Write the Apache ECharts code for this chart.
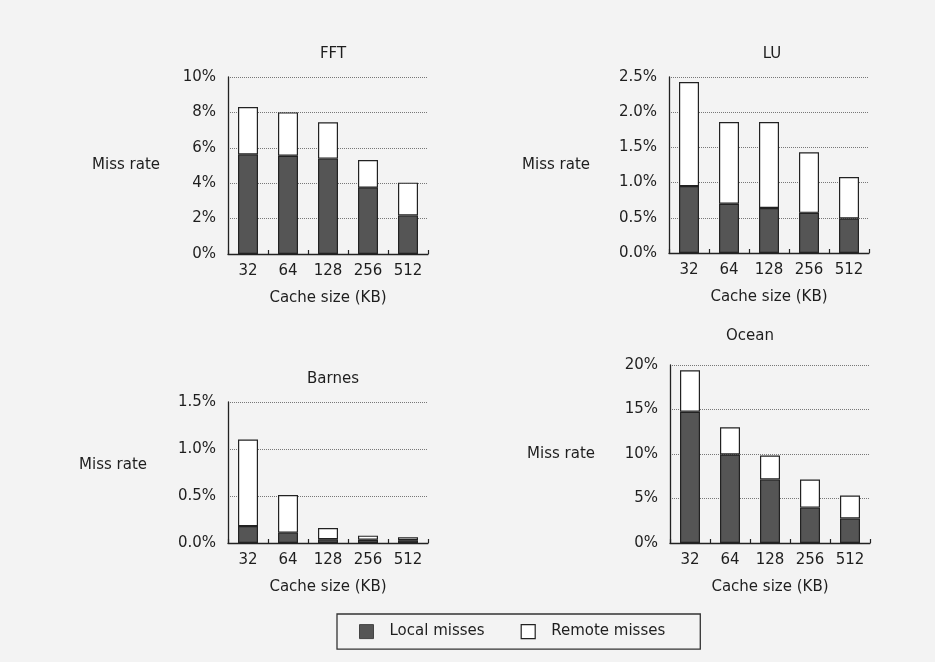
<!DOCTYPE html>
<html>
<head>
<meta charset="utf-8">
<style>
  html, body { margin: 0; padding: 0; background: #f3f3f3; }
  #chart { width: 935px; height: 662px; }
</style>
<script src="https://cdn.jsdelivr.net/npm/echarts@6/dist/echarts.min.js"></script>
</head>
<body>
<div id="chart"></div>
<script>
// Cache sizes in KB
const categories = ['32', '64', '128', '256', '512'];

// Miss rates in percent, split into local and remote misses
const fftLocal = [5.63, 5.55, 5.39, 3.75, 2.18];
const fftRemote = [2.67, 2.45, 2.05, 1.56, 1.85];

const luLocal = [0.95, 0.70, 0.64, 0.57, 0.49];
const luRemote = [1.48, 1.16, 1.22, 0.86, 0.59];

const barnesLocal = [0.18, 0.11, 0.04, 0.035, 0.03];
const barnesRemote = [0.92, 0.40, 0.12, 0.043, 0.03];

const oceanLocal = [14.75, 9.95, 7.13, 3.98, 2.75];
const oceanRemote = [4.65, 3.05, 2.70, 3.15, 2.58];

// Axis ranges per panel
const titles = ['FFT', 'LU', 'Barnes', 'Ocean'];
const yMax = [10, 2.5, 1.5, 20];
const yStep = [2, 0.5, 0.5, 5];
const yDecimals = [0, 1, 1, 0];

const seriesNames = ['Local misses', 'Remote misses'];
const localData = [fftLocal, luLocal, barnesLocal, oceanLocal];
const remoteData = [fftRemote, luRemote, barnesRemote, oceanRemote];

// Layout of the four panels
const layout = [
  { grid: { left: 228, top: 77, width: 200, height: 177 }, title: [328, 42], nameGap: 68, nameAlign: 'middle' },
  { grid: { left: 669, top: 77, width: 200, height: 176 }, title: [767, 42], nameGap: 79, nameAlign: 'middle' },
  { grid: { left: 228, top: 402, width: 200, height: 141 }, title: [328, 367], nameGap: 81, nameAlign: 'bottom' },
  { grid: { left: 670, top: 365, width: 200, height: 178 }, title: [745, 324], nameGap: 75, nameAlign: 'middle' }
];

const FONT = 'DejaVu Sans';
const INK = '#1e1e1e';
const LOCAL_COLOR = '#555555';
const REMOTE_COLOR = '#ffffff';

const grids = [], xAxes = [], yAxes = [], series = [], titleList = [];

layout.forEach((p, i) => {
  grids.push(Object.assign({ containLabel: false, outerBoundsMode: 'none' }, p.grid));

  titleList.push({
    text: titles[i],
    left: p.title[0],
    top: p.title[1],
    textAlign: 'center',
    textStyle: { fontFamily: FONT, fontSize: 15, fontWeight: 'normal', color: INK }
  });

  xAxes.push({
    type: 'category',
    gridIndex: i,
    data: categories,
    name: 'Cache size (KB)',
    nameLocation: 'middle',
    nameGap: 37,
    nameTextStyle: { fontFamily: FONT, fontSize: 15, color: INK },
    axisLine: { show: true, lineStyle: { color: '#222', width: 1.3 } },
    axisTick: { show: true, inside: true, length: 4, lineStyle: { color: '#222', width: 1.2 } },
    axisLabel: { margin: 10, fontFamily: FONT, fontSize: 15, color: INK },
    splitLine: { show: false }
  });

  const dec = yDecimals[i];
  yAxes.push({
    type: 'value',
    gridIndex: i,
    min: 0,
    max: yMax[i],
    interval: yStep[i],
    name: 'Miss rate',
    nameLocation: 'middle',
    nameRotate: 0,
    nameGap: p.nameGap,
    nameTextStyle: { fontFamily: FONT, fontSize: 15, color: INK, verticalAlign: p.nameAlign },
    axisLine: { show: true, lineStyle: { color: '#222', width: 1.3 } },
    axisTick: { show: false },
    axisLabel: {
      margin: 12,
      fontFamily: FONT,
      fontSize: 15,
      color: INK,
      formatter: v => v.toFixed(dec) + '%'
    },
    splitLine: { show: true, lineStyle: { color: '#777', type: 'dotted', width: 1 } }
  });

  series.push({
    name: seriesNames[0],
    type: 'bar',
    xAxisIndex: i,
    yAxisIndex: i,
    stack: 'panel' + i,
    barWidth: 20,
    data: localData[i],
    itemStyle: { color: LOCAL_COLOR, borderColor: '#222', borderWidth: 1.2 },
    emphasis: { disabled: true }
  });
  series.push({
    name: seriesNames[1],
    type: 'bar',
    xAxisIndex: i,
    yAxisIndex: i,
    stack: 'panel' + i,
    barWidth: 20,
    data: remoteData[i],
    itemStyle: { color: REMOTE_COLOR, borderColor: '#222', borderWidth: 1.2 },
    emphasis: { disabled: true }
  });
});

const chart = echarts.init(document.getElementById('chart'), null, { renderer: 'canvas' });
chart.setOption({
  backgroundColor: '#f3f3f3',
  animation: false,
  title: titleList,
  grid: grids,
  xAxis: xAxes,
  yAxis: yAxes,
  legend: {
    left: 337,
    top: 614,
    orient: 'horizontal',
    data: [
      { name: seriesNames[0], itemStyle: { color: LOCAL_COLOR, borderColor: '#444', borderWidth: 1 } },
      { name: seriesNames[1], itemStyle: { color: REMOTE_COLOR, borderColor: '#222', borderWidth: 1.2 } }
    ],
    icon: 'rect',
    itemWidth: 14,
    itemHeight: 14,
    itemGap: 36,
    padding: [10, 35, 10, 22],
    borderColor: '#333',
    borderWidth: 1.3,
    selectedMode: false,
    textStyle: { fontFamily: FONT, fontSize: 15, color: INK, padding: [0, 0, 0, 11] }
  },
  series: series
});
</script>
</body>
</html>
